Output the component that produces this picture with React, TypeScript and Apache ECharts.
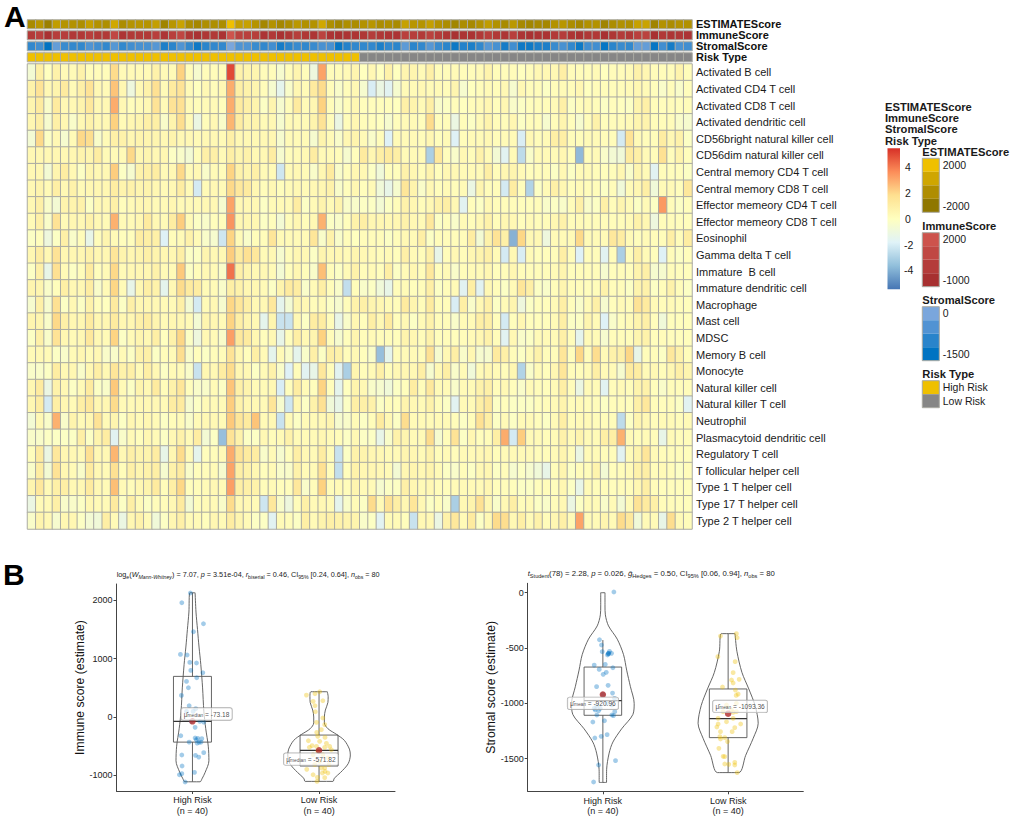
import React, { useEffect, useRef } from "react";
import * as echarts from "echarts";

const FONT = "Liberation Sans, Arial, sans-serif";

const cellTypes = [
  "Activated B cell", "Activated CD4 T cell", "Activated CD8 T cell", "Activated dendritic cell",
  "CD56bright natural killer cell", "CD56dim natural killer cell", "Central memory CD4 T cell",
  "Central memory CD8 T cell", "Effector memeory CD4 T cell", "Effector memeory CD8 T cell",
  "Eosinophil", "Gamma delta T cell", "Immature  B cell", "Immature dendritic cell", "Macrophage",
  "Mast cell", "MDSC", "Memory B cell", "Monocyte", "Natural killer cell", "Natural killer T cell",
  "Neutrophil", "Plasmacytoid dendritic cell", "Regulatory T cell", "T follicular helper cell",
  "Type 1 T helper cell", "Type 17 T helper cell", "Type 2 T helper cell",
];

const heatRows: number[][] = [
  [-.4,1,0,.8,.3,.3,.8,.2,.2,.2, 1.8,.3,.3,.3,.3,.8,.3,.3,2.2,.2, -.3,.2,.2,.2,5,.8,.6,.6,.2,.2, -.3,.2,.6,.2,-.6,3.2,.2,.2,.3,.6,
   0,.4,0,.8,0,.6,.6,.3,.9,.2, .2,.3,.2,.2,.3,.7,.2,.2,.2,0, .2,.4,.4,.4,1,.2,.2,.2,.3,0, .2,.2,.3,.8,.5,.2,.2,.2,.7,.2],
  [.8,1.5,.4,.7,1.2,.3,.9,1.5,.4,.3, 2.5,.5,-.6,.4,.8,1.6,.3,1.2,1.5,.3, 0,.4,.2,.4,3,1,.8,.6,.2,-.3, -.9,-.2,.5,.3,1.2,1.8,.2,-.2,.2,.4,
   -.3,-1.2,-.7,-1,-.3,.3,.3,.4,.3,.3, .2,.6,-.3,0,.2,.3,.2,.4,-.3,.4, .2,.2,-.1,.2,.3,.2,.5,0,.2,.2, .2,.2,.3,.5,.3,.1,-.2,.2,-.2,.1],
  [.6,1.2,-.2,1.2,.4,.4,.7,1.3,.4,.4, 3,.4,.1,.3,.4,1.5,.3,1.5,1.6,.3, .2,.3,.3,.1,3,1.2,.9,.7,-.1,.6, -.3,.2,1.2,.3,.5,2.2,.2,-.2,.2,.5,
   .1,.1,.1,.1,0,.9,.7,.3,1,-.2, -.1,.2,0,.2,.3,.5,.1,.5,-.2,-.1, .1,.2,.2,.3,.9,-.1,.2,.3,.2,-.1, .1,0,-.1,.7,.9,.2,.1,.2,.1,.2],
  [.5,1,-.3,.9,.5,-.2,.4,.8,.4,.4, 2.2,.3,.5,.6,.9,1,-.2,.7,1.7,.3, -.7,.2,.4,-.2,2.8,1.1,.6,.7,.3,.4, -.3,.3,.3,.3,.7,1.5,.2,-.7,.2,.5,
   .2,.1,0,-.3,.1,.3,.3,.1,1.8,.1, .2,-.7,.2,-.1,.3,.7,.2,.2,.5,-.1, .2,.2,-.3,.2,.6,.1,-.3,.2,.8,.1, .2,.2,.3,.6,.7,.2,.2,.2,-.2,-.3],
  [-.4,1.9,-.1,.4,-.3,.3,1.9,1.7,-.2,.3, .9,.8,.5,.7,.6,.6,.4,.7,.4,.4, .3,.4,.4,.3,.9,.4,.4,.4,.4,.5, -.3,.3,.3,.3,-.3,.7,.3,-.2,.5,.7,
   .3,-.2,.2,-1.1,.3,.3,.3,.2,.5,.1, .3,-1.1,.2,.3,.3,.4,.2,.3,.3,-1.2, .4,.2,.3,1,1,.2,.2,.3,.3,.2, .2,-1.3,1.5,.3,.2,.2,1.1,.4,.8,-.1],
  [.4,.5,.4,.5,.4,.5,.7,.6,1.1,.3, .3,.3,1.9,.5,.6,.4,.5,-.1,-.2,-.4, .2,.9,.9,.3,1,.6,.8,.4,.4,1.1, -.3,.2,.3,.4,1.1,.3,.3,.2,-.3,.1,
   1.2,.5,1,1.2,1,.3,.3,.3,-2,1.3, .1,-.2,.4,.2,.8,.3,-.4,-1,.3,-1.7, -.2,.3,.3,.3,.5,.1,-2.7,.2,.3,-.2, -.4,-.5,1.2,.9,.3,.2,1.6,.1,.7,.1],
  [.4,.5,-.4,.6,1.1,.4,-.1,.6,.4,.4, 2.3,-.1,-.3,.8,.9,1.1,.3,.4,1.9,.3, .4,-.2,.3,.2,2.1,.8,.6,.9,.3,.3, -1.4,.3,.4,.3,-.2,.5,1.2,-.2,.1,.5,
   .4,-.1,-.5,.1,.1,.8,.5,.2,.7,.1, .4,.4,.3,.3,.3,1,.2,.5,.6,.3, .1,.2,.2,-.1,.4,-.1,.3,.3,.2,.1, .2,.5,-.2,.6,.3,-1,.2,.1,.1,-.1],
  [.4,.7,.3,1,.4,.8,.3,.5,.5,.5, 1.1,.7,.8,.6,.7,.5,.3,.4,1.1,.3, -1.3,.3,.4,.3,1.9,1.3,1.2,.5,.2,.4, .1,.3,.4,.3,.4,.5,.8,-.2,.1,.5,
   .1,.3,-.5,-.8,-.3,1.4,.7,-.2,.4,.1, .3,.2,.3,-.7,.6,.2,.2,-1.3,1.1,.1, -1.9,-.1,.3,.9,.5,.1,.3,.2,.2,-.1, .2,-.5,.3,.5,1,-.5,.3,.3,.1,1.3],
  [.4,.9,-.2,-.4,.7,.7,.8,-.1,.4,.4, .9,.1,.3,.5,.5,.3,.3,.5,.3,.3, .3,.4,.4,-.3,3.2,.4,.4,.4,-.1,.3, .3,.3,1.1,-.1,.3,.7,.3,.7,-.2,-.2,
   -.1,-.1,-.4,-.1,.2,.8,.5,.2,.4,.8, 1,.4,-1,.1,-.1,.4,.2,.2,.2,.1, .1,.2,-.2,-.1,-.2,.2,.9,-.2,-.1,.9, .2,.6,.3,-.1,.3,-.1,3.4,.2,-.1,.1],
  [.3,.9,-.2,1.5,.3,.5,.4,.8,.4,.3, 2.9,.3,.3,.5,1.2,.4,.3,1.1,2.3,.3, -.1,-.2,.1,.1,3.5,.5,.5,.5,-.1,.1, -.4,.2,.5,.2,.4,2.9,-.1,-.2,.1,.8,
   1,.5,.5,.4,.5,.8,.4,.3,1.3,-.1, .1,-.2,.3,.2,.4,.8,.2,.5,.4,.1, .3,.2,.2,.5,.8,.2,.3,.2,.2,.2, .2,.2,.3,.8,.5,-.6,.2,.2,.1,.1],
  [-.1,.1,-.6,-.1,.9,-.2,.2,-.8,.2,.6, .3,.1,.1,1.1,1,.9,-1.1,.2,.3,.8, .3,-.2,-.3,-1.4,2.1,.3,-.2,.2,.2,1.4, .3,.3,.3,.3,1.4,-.2,.8,-.2,.2,0,
   .2,.2,.2,-.1,.2,.4,.3,1,-.1,.2, .2,.2,.2,1.1,-.4,.8,1.5,.9,-3,2, .4,.4,-.6,.3,.3,.3,1.9,.3,.3,.3, 1.3,1.1,.3,.1,.3,.2,.2,1,.2,1.1],
  [.5,1.1,.4,1.5,.5,.5,.5,.8,.5,.5, 1.4,.7,.5,.7,.9,.7,.5,.5,1,-.1, -.1,.6,.4,.4,2.3,1.2,1.6,1.3,.3,.4, -.3,.2,.5,.4,-.1,.6,.4,.4,.3,.6,
   .4,.3,.2,.3,.1,.9,.3,.2,.9,-.8, .2,.4,.2,.5,.7,.9,.3,-1.3,.4,-1.2, .3,.1,.1,.2,1,.2,-1.1,.2,.2,-1, .2,-2,.2,.9,.3,.1,-1.1,.2,-.1,.1],
  [-.1,.9,-.8,1.6,.3,-.1,.2,1.2,.1,.3, 1.9,.3,.4,.5,.5,.8,.3,.3,2.4,-.1, .2,.4,.3,-.2,4.2,.9,.6,.4,.4,.3, -.4,.1,.5,.2,-.2,2.6,.2,-.1,.3,.8,
   .2,.3,.1,1,-.1,.3,.5,.2,1.3,.1, .3,-.2,.2,.3,.3,.5,.1,.2,.5,.2, .2,.2,.2,.3,.6,.1,.2,.2,.2,-.3, .1,.2,.1,.7,.9,-.3,-.3,.2,.1,.1],
  [.6,.6,-.2,.1,1,.4,.4,1.1,-.2,.3, 2,.3,-.8,.5,1,.8,-.9,.4,1.8,1.2, 1.1,.3,.3,-.2,1,.8,.5,.5,.3,-.1, .7,1.2,1.1,-.2,.3,1,.2,-.2,-1.6,.2,
   -.2,-.1,-.5,-.8,.2,.3,.1,.2,1,-.1, .2,.3,-1,1,-1,.4,.2,-.1,.3,1.4, 1,-.1,-.2,.2,.6,.2,.2,.1,.2,.8, .2,.2,-.1,.7,.8,-.1,.2,.8,.2,-.1],
  [-.3,.9,-.3,1.6,-.1,.4,-.1,.8,.1,0, 1.2,-.1,.9,.5,.5,.4,.3,.3,.9,-.4, -1.3,.3,.4,-.3,2,1.4,1,.4,.4,1.3, -.9,-.4,.6,.4,.2,.3,-.1,-.3,.2,.8,
   .9,.6,.5,.3,.2,1.2,.6,.2,1.2,.2, .2,-1.2,1,-.2,.4,.9,-.1,.3,.6,-.6, -.1,.1,.1,.3,1,.1,-.2,.3,.9,-.3, .1,.3,.2,1.5,1.2,.3,.2,.3,.2,.1],
  [.6,.6,-.2,1.9,.9,.5,.5,1.2,.5,.5, 1.2,.5,.5,.9,1.1,.6,.3,.5,.5,.3, -.4,.6,.5,.3,2.1,1,.6,.4,-.9,.6, -1.5,-1.5,.4,-.1,1.1,1.1,.2,-.8,-.2,.5,
   .1,1,.4,1.2,.1,.4,-.1,.3,.8,.2, .2,-.2,.3,.3,1,1,.1,-1.3,.1,.5, .1,.1,.1,.3,1,-.1,-.1,.6,.3,-1.1, -.2,.1,.3,.7,.9,.1,-.5,.1,.1,.1],
  [-.1,.9,-.2,1.5,.5,.3,.4,1.3,.4,.3, 2.1,-.1,.3,.6,.4,1,0,.8,2,-.1, -.6,.4,.3,-.2,3.3,1.3,1.2,.5,.1,.4, -.8,.1,1,.4,.6,2.2,.2,-.3,.1,.6,
   .2,.3,.2,.2,.1,.7,.5,.2,.8,.1, .2,.1,.2,.3,.5,.8,.2,-1,.4,-.2, -.1,.3,.3,.3,.9,.2,-.9,.3,.3,-.3, .2,.2,.2,.6,.8,.1,.2,.1,.1,.1],
  [.3,.4,.3,-.1,-.2,.3,.5,.3,.4,-.2, -.2,.3,-.1,.8,.9,-.1,.2,.3,1.7,-.2, .1,-.1,.2,.2,1.5,.5,.1,1,.3,-.9, .3,-.2,-.9,-.2,.9,-.1,1,.8,.2,.4,
   .1,-.2,-2.5,-.9,.2,.3,.3,.2,1.6,-.3, .4,1,-.2,.5,-.3,-.3,1.2,.9,.2,-.1, .3,.8,.2,.2,1.4,.1,2,.2,1.7,.3, .8,.9,2,-.8,.2,.2,-.1,1.3,.8,.2],
  [-.2,-.2,-.1,1.1,.4,.5,-.2,.5,1,.4, 1.4,.8,.9,.3,1,.4,-.1,.3,.3,-.2, -1.5,.5,.4,1.1,1.8,.5,.4,-.1,.3,.8, -.2,-1.1,.2,-1,-.8,1.3,.2,-1,-2,.6,
   .2,.3,.9,.2,.4,.5,.4,1,-.3,.4, 1,-.2,.3,-.5,.3,.5,.3,.2,.5,-1.9, -.2,.3,.1,.5,1.4,.2,.2,.3,1,.3, .3,-.3,1.2,1.1,.3,.4,.2,.5,.9,.6],
  [.5,1.2,-.7,.8,.4,-.1,.3,1.2,-.1,-.2, 2.4,.3,-.1,.7,.4,1.2,.2,.8,1.4,.1, -.2,-.2,.3,-.1,2.5,.9,.7,.3,.3,.4, -1.2,.1,1.1,.3,.1,2.1,.1,-.9,0,.7,
   .4,-.2,-.3,-.5,-.1,.1,1.1,.2,1.3,.3, .3,-.2,.3,.3,.8,.9,.2,.4,.1,-.2, .3,.2,.1,.3,1,.2,-.7,.3,.3,-1, .2,.3,.2,.7,.8,.1,-.2,.2,.2,.2],
  [.5,1.1,-1.3,1,.5,.3,1,1.3,.5,.5, 1.8,.3,.3,.4,.4,.4,.3,1.1,1.2,-.3, -.1,.3,.3,.3,2.3,.8,.5,.4,.3,1.4, -.3,-1.4,.5,-.1,.8,1.6,-.5,-.8,-.1,1,
   .9,.8,-.1,.2,.1,.7,.4,.3,.8,.2, -.1,-1,.3,.3,1,1.3,-.1,.1,-.1,-.1, -.1,.1,.2,.3,.7,.2,.3,.2,.2,-.1, .2,.2,.1,.9,1.3,.2,.1,.2,-.1,-1],
  [-.4,.4,-.2,2.9,-.2,.7,.3,.5,1.5,.3, .6,-.1,.5,.3,.5,.3,-.1,.2,.3,-.2, .3,.4,.4,.3,2.4,1.4,1.2,2.5,.3,.4, -1.5,.3,-.1,.3,.3,.4,.6,-.3,-.2,.3,
   -.1,.2,1.2,.4,-.1,1.7,.3,.3,.3,.3, .3,.2,-.1,.2,1.6,1,-.1,.3,-.1,.3, .3,.1,-.1,.3,1,.2,.3,.3,.2,.2, .2,-1.7,-.1,.6,.4,.2,.3,.3,.2,.3],
  [-.2,-.2,-.1,-.1,-.1,-.1,1,-.1,.7,1.1, -1,-.2,.3,.1,.5,.3,-.1,.4,.8,.3, 1.1,-.4,-.1,-2.5,1.5,.8,-.1,-.1,.4,.2, .3,.8,.3,.3,.3,.5,.3,.2,-.1,.4,
   -.1,-.1,-.8,-.2,.8,.6,.3,.3,1.8,-.3, .2,1.5,-.1,.5,.1,.2,1,3,-1.3,2.3, .3,.3,.2,.3,.8,.3,.7,.3,.3,1, 1,2.9,.3,.2,.3,.2,-.8,.3,.2,.2],
  [.1,1.2,-.7,1.3,.5,.4,.3,1.6,.4,.4, 2.8,.4,.9,.7,.7,1.1,-.8,.5,1.8,.3, -.9,.1,.2,.3,3,1.5,1.2,1.1,-.2,.3, -.3,.1,1,.4,.3,1.1,.2,-1.5,-.1,.8,
   .7,.5,.4,.3,.3,.6,.5,.3,.8,.2, .3,.2,.3,.3,.4,.5,.2,.3,.3,.3, .3,.2,.2,.3,.6,.2,-.7,.3,.3,.2, .2,-1,.3,.7,1.4,.3,.2,.2,.2,.1],
  [-.2,1.1,-.4,1.5,.5,.3,-.2,1.2,.4,.3, 1.6,.2,.9,.6,.8,1,-.3,.8,1.2,-.2, .1,.2,.3,-.3,3.2,1,.8,.5,.1,.3, -.2,-.2,.8,.3,.3,1.6,.2,-1.6,.1,.8,
   .5,.5,.4,.3,-.4,.5,.6,.4,.7,.3, -.1,-.2,.2,-.1,.4,.5,-.1,.2,-.3,-.1, -.3,-.5,-.8,.2,.6,-.1,.2,.2,.7,-.4, .1,.2,.3,.8,1,.2,.3,.2,-.1,.2],
  [.6,1.3,.3,.9,1,.4,.4,1.2,.4,.3, 2.6,.3,.2,.5,.7,1.2,.2,1,2,.1, .2,.3,.4,.3,3.3,1,.9,.8,.2,.3, .1,.1,1.3,-.2,.2,2.2,.2,.3,.2,.6,
   .3,.3,-.3,-.1,-.1,.9,.5,.3,.4,.2, .1,.3,.3,.3,.3,.5,.1,.2,.1,-.1, -.1,.1,.2,.1,.5,-.1,-.8,.3,.2,.2, .1,.2,.2,.5,1,.2,.1,.1,.1,.1],
  [-.7,.3,.3,.9,-.2,-.2,-.1,.5,.3,.3, 1.2,-.1,1,.3,-.1,.2,.2,.4,1.2,-.4, .2,.3,.3,-.2,1.8,.4,.4,.3,-1.4,1.3, -.2,-.6,.2,.9,.3,.4,.3,-.9,-.2,.3,
   -.1,1.8,.3,1.5,1,.5,1.4,.4,-.1,.2, -.2,-2,.4,.7,1.6,.5,-.2,.4,1,.2, .3,-.1,-.2,.2,.4,-.7,-.1,.3,.3,-.2, .3,-.4,.3,1.5,1.2,.9,.2,.2,.1,.1],
  [-.2,.7,.4,-.3,.5,.5,-.1,-.4,-.5,1, .3,-.7,.5,.8,.3,-.5,-.1,.5,.9,.3, .3,.1,.5,.3,1.1,.6,.3,-.1,-.1,-1, .3,.2,-.1,1,.3,.7,.9,.8,.7,.7,
   -.2,-.1,-1,.3,.3,.1,-1.5,.4,.4,-.7, .8,1.3,.3,1.2,-.1,.4,1.8,1.7,.4,1, .3,.8,.2,.5,.9,.3,3.2,.3,.3,.6, .3,1.8,1.3,-.5,.3,.3,-.8,1.7,.3,.2],
];

const columnIds = Array.from({ length: 80 }, (_, i) => "S" + (i + 1));

const estimateScores = [
  -900,-300,-1500,100,-400,-500,-700,200,-500,-700, 700,-800,-400,-300,-400,200,-1300,-300,400,-800,
  -1100,-700,-700,-800,2000,200,300,-400,-1100,-500, -1100,-800,-200,-600,-500,700,-700,-1200,-700,-800,
  -500,-300,-800,-700,-900,300,-300,-400,200,-500, -800,-1200,-800,-1000,-600,0,-600,-900,-200,-1000,
  -1200,-1000,-1100,-500,-300,-800,-1100,-600,-500,-1300, -800,-600,-700,300,400,-1300,-500,-800,-500,-600,
];
const immuneScores = [
  -200,400,-900,200,200,-300,-300,300,-300,-300, 1000,-600,-300,-200,-300,300,-600,300,900,-500,
  -900,-500,-300,-800,2100,500,400,200,-700,-300, -900,-500,200,-400,-600,600,-700,-1000,-700,-600,
  -400,0,-400,-600,-700,400,200,-200,500,-100, -600,-900,-700,-800,-300,300,-300,-600,300,-700,
  -900,-700,-800,-200,100,-600,-900,-400,-300,-1000, -500,-100,-400,400,500,-1000,-300,-600,-400,-700,
];
const stromalScores = [
  -1000,-800,-1700,-300,-900,-1000,-1000,-600,-800,-1000, -500,-1000,-800,-700,-700,-500,-1300,-1100,-600,-1000,
  -1500,-1100,-1000,-1000,0,-600,-600,-900,-1000,-800, -1400,-1100,-900,-1000,-900,-700,-700,-1600,-1200,-1000,
  -1000,-1000,-1300,-1000,-1100,-400,-1100,-1000,-500,-900, -1100,-1500,-1200,-1300,-1000,-500,-700,-1400,-800,-1500,
  -1500,-1300,-1300,-900,-700,-1000,-1500,-800,-800,-1600, -1100,-900,-1000,-300,-300,-1600,-800,-1400,-700,-800,
];
const riskCodes = [...Array(40).fill(1), ...Array(40).fill(0)];

const heatRamp = ["#4575B4","#6090C4","#7FA8D0","#A0C8E0","#DFF1F6","#FFFFBF","#FEEDA2","#FDD280","#FC9E65","#ED6847","#D73027"];
const heatRampStops = ["#4575B4","#91BFDB","#E0F3F8","#FFFFBF","#FEE090","#FC8D59","#D73027"];

// Immune score panel
const immuneHighY = [2126,1960,1600,1463,1074,1063,937,926,800,760,674,611,503,371,194,143,97,-86,-177,-320,-360,-366,-371,-434,-429,-429,-611,-657,-686,-651,-840,-949,-971,-989,-1114,-74,-389,-446,-74,97];
const immuneHighX = [.984,.916,1.087,1.008,.905,.958,.979,1.032,.987,1.082,1.034,.953,.968,.913,.974,1.026,.953,1.089,1.021,.908,1.021,1.042,1.074,1.053,.974,1.068,1.089,1.024,1.05,.916,.918,1.016,.916,.897,.942,.99,1.03,1.037,1.058,1.005];
const immuneLowY = [377,400,434,280,194,91,-91,-131,-263,-349,-406,-451,-503,-491,-520,-589,-520,-817,-874,-897,-931,-960,-1034,-1040,-1103,-646,-703,-760,-817,-646,-503,-874,-960,-989,-417,-331,-217,-17,269,-560];
const immuneLowX = [1.9,1.968,2.005,2.03,1.968,1.971,1.98,2.045,1.982,2.047,1.916,2.058,2.084,1.945,1.924,1.99,2.045,2.079,2.045,1.903,2.047,2.026,1.987,2.045,1.984,1.953,2.07,2.005,1.966,2.03,1.98,2.018,2.07,1.953,2.005,1.99,2.018,2.03,1.953,2.097];
const immuneHighViolin = [[2130,.021],[1800,.028],[1500,.04],[1200,.052],[900,.066],[500,.08],[100,.09],[-200,.105],[-500,.125],[-750,.13],[-950,.1],[-1060,.075],[-1110,.06]];
const immuneLowViolin = [[434,.065],[350,.072],[250,.07],[120,.05],[0,.042],[-100,.042],[-200,.07],[-300,.14],[-400,.2],[-550,.24],[-650,.247],[-800,.23],[-950,.17],[-1050,.12],[-1103,.11]];
const immuneBoxes = [[1,-1110,-430,-73,697,2130],[2,-1103,-840,-571,-309,434]];
const immuneCentres = [[1,-73.18],[2,-571.82]];

// Stromal score panel
const stromalHighY = [6,-425,-473,-533,-530,-548,-554,-563,-654,-648,-678,-720,-693,-738,-849,-837,-907,-919,-955,-1021,-1060,-1066,-1105,-1111,-1075,-1157,-1169,-1298,-1283,-1313,-1518,-1557,-1711,-548,-548,-1015,-1045,-1105,-1000,-1045];
const stromalHighX = [1.088,.973,.989,.995,1.053,1.069,1.042,1.037,.931,1.019,1.08,1.027,.971,1.003,.95,1.042,1.077,1,1.093,.952,.939,.966,.952,1.085,1.095,1.013,.92,.987,1.034,.936,1.101,.966,.926,1.045,1.047,1.072,.931,1.072,1.032,.979];
const stromalLowY = [-370,-392,-407,-578,-623,-723,-789,-783,-816,-852,-880,-916,-928,-1015,-1060,-1075,-1187,-1220,-1187,-1214,-1256,-1256,-1301,-1310,-1322,-1346,-1407,-1479,-1482,-1548,-1551,-1533,-1557,-1626,-1136,-1075,-1081,-1166,-1136,-1000];
const stromalLowX = [2.066,1.939,2.072,1.918,2.056,2.04,2.027,2.088,2.04,1.955,2.058,2.08,2.064,1.987,2.027,2.066,2.1,2.053,1.92,1.91,2.032,1.939,1.934,1.973,1.939,1.995,1.926,1.96,1.973,1.973,2.005,2.053,2.053,2.072,1.92,1.96,2.04,1.987,2.04,2.066];
const stromalHighViolin = [[0,.017],[-120,.017],[-200,.02],[-300,.045],[-420,.115],[-560,.165],[-700,.19],[-850,.22],[-1000,.25],[-1100,.24],[-1230,.15],[-1350,.08],[-1450,.05],[-1600,.03],[-1715,.029]];
const stromalLowViolin = [[-370,.055],[-530,.07],[-720,.11],[-870,.165],[-1020,.215],[-1180,.24],[-1316,.2],[-1470,.14],[-1626,.085]];
const stromalBoxes = [[1,-1711,-1108,-976,-672,-428],[2,-1626,-1310,-1139,-870,-370]];
const stromalCentres = [[1,-920.96],[2,-1093.36]];

const GROUP_LABELS: Record<number, string> = { 1: "High Risk\n(n = 40)", 2: "Low Risk\n(n = 40)" };
const BOX_HALF = 0.15;
const LINE = "#555555";

function violinPath(centre: number, rows: number[][]) {
  const right = rows.map(([y, w]) => [centre + w, y]);
  const left = rows.slice().reverse().map(([y, w]) => [centre - w, y]);
  return [...right, ...left, right[0]];
}

function boxRender(_: any, api: any) {
  const x = api.value(0), lo = api.value(1), q1 = api.value(2), med = api.value(3), q3 = api.value(4), hi = api.value(5);
  const a = api.coord([x - BOX_HALF, q3]);
  const b = api.coord([x + BOX_HALF, q1]);
  const m1 = api.coord([x - BOX_HALF, med]);
  const m2 = api.coord([x + BOX_HALF, med]);
  const wHi = api.coord([x, hi]), wQ3 = api.coord([x, q3]), wQ1 = api.coord([x, q1]), wLo = api.coord([x, lo]);
  const s = { stroke: LINE, lineWidth: 0.9, fill: "none" };
  return {
    type: "group",
    children: [
      { type: "line", shape: { x1: wHi[0], y1: wHi[1], x2: wQ3[0], y2: wQ3[1] }, style: s },
      { type: "line", shape: { x1: wQ1[0], y1: wQ1[1], x2: wLo[0], y2: wLo[1] }, style: s },
      { type: "rect", shape: { x: a[0], y: a[1], width: b[0] - a[0], height: b[1] - a[1] }, style: s },
      { type: "line", shape: { x1: m1[0], y1: m1[1], x2: m2[0], y2: m2[1] }, style: { ...s, stroke: "#333", lineWidth: 1.3 } },
    ],
  };
}

const labelRich = {
  a: { fontSize: 6.6, fontFamily: FONT, color: "#222" },
  s: { fontSize: 4.8, fontFamily: FONT, color: "#222", verticalAlign: "bottom", lineHeight: 8 },
};

function panelSeries(idx: number, hx: number[], hy: number[], lx: number[], ly: number[], hv: number[][], lv: number[][],
  boxes: number[][], centres: number[][], statName: string, offsets: number[][]) {
  const fmt = (v: number) => v.toFixed(2);
  return [
    { type: "line", xAxisIndex: idx, yAxisIndex: idx, data: violinPath(1, hv), smooth: 0.3, showSymbol: false, symbol: "none", lineStyle: { color: LINE, width: 0.9 }, z: 3 },
    { type: "line", xAxisIndex: idx, yAxisIndex: idx, data: violinPath(2, lv), smooth: 0.3, showSymbol: false, symbol: "none", lineStyle: { color: LINE, width: 0.9 }, z: 3 },
    { type: "custom", xAxisIndex: idx, yAxisIndex: idx, data: boxes, renderItem: boxRender, encode: { x: 0, y: [1, 2, 3, 4, 5] }, z: 4 },
    { type: "scatter", xAxisIndex: idx, yAxisIndex: idx, data: hx.map((x, i) => [x, hy[i]]), symbolSize: 4.8, itemStyle: { color: "#0073C2", opacity: 0.36 }, z: 5 },
    { type: "scatter", xAxisIndex: idx, yAxisIndex: idx, data: lx.map((x, i) => [x, ly[i]]), symbolSize: 4.8, itemStyle: { color: "#EFC000", opacity: 0.36 }, z: 5 },
    {
      type: "scatter", xAxisIndex: idx, yAxisIndex: idx, symbolSize: 6.5, z: 7,
      itemStyle: { color: "#B12A2A" },
      data: centres.map((c, i) => ({
        value: c,
        label: {
          show: true,
          position: offsets[i],
          formatter: `{a|μ̂}{s|${statName}}{a| = ${fmt(c[1])}}`,
          rich: labelRich,
          backgroundColor: "rgba(255,255,255,0.85)",
          borderColor: "#999",
          borderWidth: 0.7,
          borderRadius: 2,
          padding: [2, 2.5],
        },
      })),
    },
  ];
}

function App() {
  const ref = useRef<HTMLDivElement | null>(null);
  useEffect(() => {
    document.body.style.margin = "0";
    const chart = echarts.init(ref.current!, undefined, { renderer: "svg" });

    const heatData: number[][] = [];
    heatRows.forEach((row, y) => row.forEach((v, x) => heatData.push([x, y, v])));

    const tracks = [
      { name: "ESTIMATEScore", values: estimateScores, top: 20, colors: ["#8F7700", "#EFC000"], min: -2000, max: 2000 },
      { name: "ImmuneScore", values: immuneScores, top: 31, colors: ["#A73030", "#CD534C"], min: -1100, max: 2100 },
      { name: "StromalScore", values: stromalScores, top: 42, colors: ["#0073C2", "#7AA6DC"], min: -1700, max: 0 },
      { name: "Risk Type", values: riskCodes, top: 53, colors: ["#868686", "#EFC000"], min: 0, max: 1 },
    ];

    const grids: any[] = [
      { left: 27.5, top: 64, width: 664.5, height: 465 },
      ...tracks.map((t) => ({ left: 27.5, top: t.top, width: 664.5, height: 8.6 })),
      { left: 116.5, top: 584, width: 278.5, height: 207 },
      { left: 527.7, top: 583.3, width: 275.6, height: 208 },
    ];
    const xAxes: any[] = [
      { type: "category", gridIndex: 0, data: columnIds, show: false },
      ...tracks.map((_, i) => ({ type: "category", gridIndex: i + 1, data: columnIds, show: false })),
    ];
    const yAxes: any[] = [
      {
        type: "category", gridIndex: 0, data: cellTypes, inverse: true, position: "right",
        axisLine: { show: false }, axisTick: { show: false }, splitLine: { show: false },
        axisLabel: { interval: 0, fontSize: 11, fontFamily: FONT, color: "#1a1a1a", margin: 4 },
      },
      ...tracks.map((t, i) => ({
        type: "category", gridIndex: i + 1, data: [t.name], position: "right",
        axisLine: { show: false }, axisTick: { show: false }, splitLine: { show: false },
        axisLabel: { interval: 0, fontSize: 11, fontWeight: "bold", fontFamily: FONT, color: "#111", margin: 4 },
      })),
    ];

    const axisCommon = {
      axisLine: { onZero: false, lineStyle: { color: "#444", width: 1 } },
      splitLine: { show: false },
    };
    [5, 6].forEach((g, i) => {
      xAxes.push({
        type: "value", gridIndex: g, min: 0.4, max: 2.6, ...axisCommon,
        axisTick: { customValues: [1, 2], length: 3, lineStyle: { color: "#444" } },
        axisLabel: {
          customValues: [1, 2], formatter: (v: number) => GROUP_LABELS[v] || "",
          fontSize: 9, lineHeight: 10.5, fontFamily: FONT, color: "#222", margin: 4,
        },
      });
      yAxes.push({
        type: "value", gridIndex: g, ...axisCommon,
        min: i === 0 ? -1268 : -1795, max: i === 0 ? 2281 : 85,
        name: i === 0 ? "Immune score (estimate)" : "Stromal score (estimate)",
        nameLocation: "middle", nameGap: i === 0 ? 28.5 : 31, nameRotate: 90,
        nameTextStyle: { fontSize: 12.2, fontFamily: FONT, color: "#111" },
        axisTick: { customValues: i === 0 ? [-1000, 0, 1000, 2000] : [-1500, -1000, -500, 0], length: 3, lineStyle: { color: "#444" } },
        axisLabel: {
          customValues: i === 0 ? [-1000, 0, 1000, 2000] : [-1500, -1000, -500, 0],
          formatter: (v: number) => String(v),
          fontSize: 9, fontFamily: FONT, color: "#222", margin: 4,
        },
      });
    });

    const cellBorder = { borderColor: "#ABABA3", borderWidth: 1 };
    const series: any[] = [
      { type: "heatmap", xAxisIndex: 0, yAxisIndex: 0, data: heatData, itemStyle: cellBorder, emphasis: { disabled: true } },
      ...tracks.map((t, i) => ({
        type: "heatmap", xAxisIndex: i + 1, yAxisIndex: i + 1,
        data: t.values.map((v, x) => [x, 0, v]), itemStyle: cellBorder, emphasis: { disabled: true },
      })),
      ...panelSeries(5, immuneHighX, immuneHighY, immuneLowX, immuneLowY, immuneHighViolin, immuneLowViolin, immuneBoxes, immuneCentres, "median", [[-8, -10], [-32, 6]]),
      ...panelSeries(6, stromalHighX, stromalHighY, stromalLowX, stromalLowY, stromalHighViolin, stromalLowViolin, stromalBoxes, stromalCentres, "mean", [[-32, 6], [-12, -10]]),
    ];

    const visualMaps: any[] = [
      { type: "continuous", show: false, seriesIndex: 0, dimension: 2, min: -5.5, max: 5.5, inRange: { color: heatRamp } },
      ...tracks.map((t, i) => ({
        type: "continuous", show: false, seriesIndex: i + 1, dimension: 2, min: t.min, max: t.max, inRange: { color: t.colors },
      })),
    ];

    const txt = (x: number, y: number, text: string, size: number, weight = "normal", color = "#1a1a1a") => ({
      type: "text", x, y, silent: true,
      style: { text, fontSize: size, fontWeight: weight, fontFamily: FONT, fill: color, textAlign: "left", textVerticalAlign: "middle" },
    });
    const legendBands = (x: number, y: number, h: number, colors: string[]) =>
      colors.map((c, i) => ({
        type: "rect", silent: true,
        shape: { x, y: y + (i * h) / colors.length, width: 17, height: h / colors.length },
        style: { fill: c },
      })).concat([{
        type: "rect", silent: true, shape: { x, y, width: 17, height: h },
        style: { fill: "none", stroke: "#ABABA3", lineWidth: 1 } as any,
      }]);

    const makeRich = (size: number, sub: number) => ({
      t: { fontSize: size, fontFamily: FONT, fill: "#222" },
      i: { fontSize: size, fontStyle: "italic", fontFamily: FONT, fill: "#222" },
      s: { fontSize: sub, fontFamily: FONT, fill: "#222", verticalAlign: "bottom", lineHeight: 11 },
      ss: { fontSize: sub, fontStyle: "italic", fontFamily: FONT, fill: "#222", verticalAlign: "bottom", lineHeight: 11 },
    });

    const H = 11.2;
    const graphic: any[] = [
      txt(4, 16, "A", 30, "bold", "#000"),
      txt(3, 574, "B", 30, "bold", "#000"),
      txt(885, 106.5, "ESTIMATEScore", H, "bold"),
      txt(885, 118, "ImmuneScore", H, "bold"),
      txt(885, 129.4, "StromalScore", H, "bold"),
      txt(885, 140.7, "Risk Type", H, "bold"),
      {
        type: "rect", silent: true, shape: { x: 887.5, y: 148.3, width: 12.5, height: 141 },
        style: {
          fill: new echarts.graphic.LinearGradient(0, 1, 0, 0,
            heatRampStops.map((color, i) => ({ offset: i / (heatRampStops.length - 1), color }))),
        },
      },
      txt(905, 167, "4", 10.5),
      txt(905, 193, "2", 10.5),
      txt(905, 218.5, "0", 10.5),
      txt(904, 244.5, "-2", 10.5),
      txt(904, 270, "-4", 10.5),
      txt(922.3, 152, "ESTIMATEScore", H, "bold"),
      ...legendBands(922.3, 158.3, 54, ["#EFC000", "#CFA600", "#AF8D00", "#8F7700"]),
      txt(942.7, 165, "2000", 10.5),
      txt(942.7, 205.7, "-2000", 10.5),
      txt(922.3, 225.7, "ImmuneScore", H, "bold"),
      ...legendBands(922.3, 232.7, 54, ["#CD534C", "#C04843", "#B43C3A", "#A73030"]),
      txt(942.7, 239, "2000", 10.5),
      txt(942.7, 279.7, "-1000", 10.5),
      txt(922.3, 300, "StromalScore", H, "bold"),
      ...legendBands(922.3, 306.7, 54, ["#7AA6DC", "#5193D3", "#2984CB", "#0073C2"]),
      txt(942.7, 313, "0", 10.5),
      txt(942.7, 354, "-1500", 10.5),
      txt(922.3, 374, "Risk Type", H, "bold"),
      ...legendBands(922.3, 380.7, 27, ["#EFC000", "#868686"]),
      txt(942.7, 387, "High Risk", 10.5),
      txt(942.7, 401, "Low Risk", 10.5),
      {
        type: "text", x: 116.7, y: 574, silent: true,
        style: {
          text: "{t|log}{s|e}{t|(}{i|W}{ss|Mann-Whitney}{t|) = 7.07, }{i|p}{t| = 3.51e-04, }{i|r}{s|biserial}{t| = 0.46, CI}{s|95%}{t| [0.24, 0.64], }{i|n}{s|obs}{t| = 80}",
          rich: makeRich(7.25, 5.2), textVerticalAlign: "middle",
        },
      },
      {
        type: "text", x: 527.7, y: 573, silent: true,
        style: {
          text: "{i|t}{s|Student}{t|(78) = 2.28, }{i|p}{t| = 0.026, }{i|ĝ}{s|Hedges}{t| = 0.50, CI}{s|95%}{t| [0.06, 0.94], }{i|n}{s|obs}{t| = 80}",
          rich: makeRich(7.75, 5.6), textVerticalAlign: "middle",
        },
      },
    ];

    chart.setOption({
      animation: false,
      backgroundColor: "#fff",
      textStyle: { fontFamily: FONT },
      grid: grids,
      xAxis: xAxes,
      yAxis: yAxes,
      visualMap: visualMaps,
      series,
      graphic,
    });
    return () => chart.dispose();
  }, []);
  return <div ref={ref} style={{ position: "absolute", left: 0, top: 0, width: 1020, height: 817 }} />;
}

export default App;
